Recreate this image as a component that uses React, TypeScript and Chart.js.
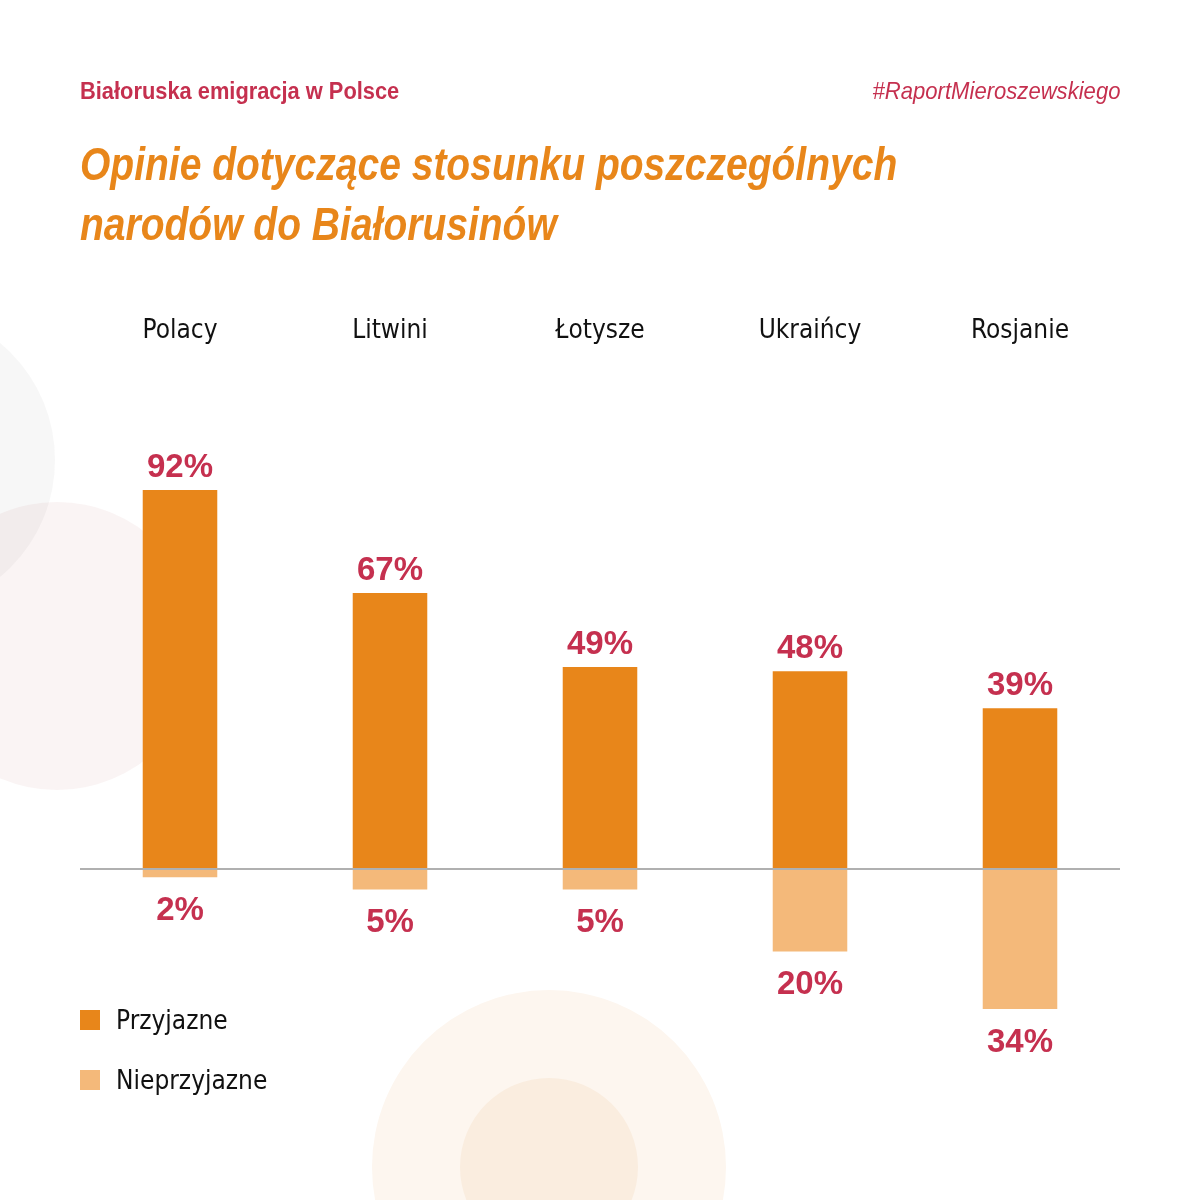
import { useEffect, useRef } from "react"
import { Chart, registerables } from "chart.js"

Chart.register(...registerables)

const nations = ["Polacy", "Litwini", "Łotysze", "Ukraińcy", "Rosjanie"]
const friendly = [92, 67, 49, 48, 39]
const unfriendly = [2, 5, 5, 20, 34]

const ORANGE = "#e8861a"
const LIGHT = "#f4b97a"
const CRIMSON = "#c5304f"
const CONDENSED = "'DejaVu Sans Condensed', 'Liberation Sans Narrow', sans-serif"
const SANS = "'Liberation Sans', Arial, sans-serif"

const overlayPlugin = {
  id: "overlay",
  afterDatasetsDraw(chart: any) {
    const { ctx, scales } = chart
    const y0 = scales.y.getPixelForValue(0)

    // baseline across the plot
    ctx.save()
    ctx.strokeStyle = "#b0b0b0"
    ctx.lineWidth = 2
    ctx.beginPath()
    ctx.moveTo(80, y0)
    ctx.lineTo(1120, y0)
    ctx.stroke()

    // category names above the columns
    ctx.fillStyle = "#111"
    ctx.font = `26px ${CONDENSED}`
    ctx.textAlign = "center"
    ctx.textBaseline = "middle"
    nations.forEach((n, i) => {
      ctx.fillText(n, scales.x.getPixelForValue(i), 331)
    })

    // value labels
    ctx.fillStyle = CRIMSON
    ctx.font = `bold 33px ${SANS}`
    chart.getDatasetMeta(0).data.forEach((bar: any, i: number) => {
      ctx.textBaseline = "bottom"
      ctx.fillText(`${friendly[i]}%`, bar.x, bar.y - 6)
    })
    chart.getDatasetMeta(1).data.forEach((bar: any, i: number) => {
      ctx.textBaseline = "top"
      ctx.fillText(`${unfriendly[i]}%`, bar.x, bar.y + 17)
    })
    ctx.restore()
  },
}

function OpinionChart() {
  const chartRef = useRef<HTMLCanvasElement>(null)
  const chartInstance = useRef<Chart | null>(null)

  useEffect(() => {
    if (!chartRef.current) return
    if (chartInstance.current) chartInstance.current.destroy()

    const ctx = chartRef.current.getContext("2d")
    if (!ctx) return

    chartInstance.current = new Chart(ctx, {
      type: "bar",
      data: {
        labels: nations,
        datasets: [
          {
            label: "Przyjazne",
            data: friendly,
            backgroundColor: ORANGE,
            categoryPercentage: 1,
            barPercentage: 0.355,
          },
          {
            label: "Nieprzyjazne",
            data: unfriendly.map((v) => -v),
            backgroundColor: LIGHT,
            categoryPercentage: 1,
            barPercentage: 0.355,
          },
        ],
      },
      options: {
        responsive: false,
        animation: false,
        maintainAspectRatio: false,
        layout: { padding: { left: 75, right: 75, top: 457, bottom: 125 } },
        plugins: { legend: { display: false }, tooltip: { enabled: false } },
        scales: {
          x: { display: false, stacked: true },
          y: { display: false, stacked: true, min: -50, max: 100 },
        },
      },
      plugins: [overlayPlugin],
    })

    return () => {
      if (chartInstance.current) {
        chartInstance.current.destroy()
        chartInstance.current = null
      }
    }
  }, [])

  return <canvas ref={chartRef} width={1200} height={1200} style={{ position: "absolute", left: 0, top: 0 }} />
}

function Circle({ x, y, r, color }: { x: number; y: number; r: number; color: string }) {
  return (
    <div
      style={{
        position: "absolute",
        left: x - r,
        top: y - r,
        width: r * 2,
        height: r * 2,
        borderRadius: "50%",
        background: color,
      }}
    />
  )
}

export default function App() {
  return (
    <div
      style={{
        position: "absolute",
        left: 0,
        top: 0,
        width: 1200,
        height: 1200,
        overflow: "hidden",
        background: "#fff",
        fontFamily: CONDENSED,
      }}
    >
      <Circle x={-97} y={460} r={152} color="rgba(120,120,120,0.06)" />
      <Circle x={57} y={646} r={144} color="rgba(190,120,110,0.08)" />
      <Circle x={549} y={1167} r={177} color="#fdf6ef" />
      <Circle x={549} y={1167} r={89} color="#faeddf" />

      <OpinionChart />

      <div
        style={{
          position: "absolute",
          left: 80,
          top: 77,
          color: CRIMSON,
          fontWeight: "bold",
          fontSize: 24,
          fontFamily: SANS,
          whiteSpace: "nowrap",
          transform: "scaleX(0.91)",
          transformOrigin: "left top",
        }}
      >
        Białoruska emigracja w Polsce
      </div>
      <div
        style={{
          position: "absolute",
          right: 80,
          top: 77,
          color: CRIMSON,
          fontStyle: "italic",
          fontSize: 24,
          fontFamily: SANS,
          whiteSpace: "nowrap",
          transform: "scaleX(0.92)",
          transformOrigin: "right top",
        }}
      >
        #RaportMieroszewskiego
      </div>
      <div
        style={{
          position: "absolute",
          left: 80,
          top: 134,
          color: ORANGE,
          fontWeight: "bold",
          fontStyle: "italic",
          fontSize: 47,
          lineHeight: "60px",
          fontFamily: SANS,
          whiteSpace: "nowrap",
          transform: "scaleX(0.83)",
          transformOrigin: "left top",
        }}
      >
        Opinie dotyczące stosunku poszczególnych
        <br />
        narodów do Białorusinów
      </div>

      {[
        { label: "Przyjazne", color: ORANGE, top: 1010 },
        { label: "Nieprzyjazne", color: LIGHT, top: 1070 },
      ].map((item) => (
        <div key={item.label} style={{ position: "absolute", left: 80, top: item.top, display: "flex", alignItems: "center" }}>
          <div style={{ width: 20, height: 20, background: item.color }} />
          <span style={{ marginLeft: 16, fontSize: 26, color: "#111", lineHeight: "20px" }}>{item.label}</span>
        </div>
      ))}
    </div>
  )
}
